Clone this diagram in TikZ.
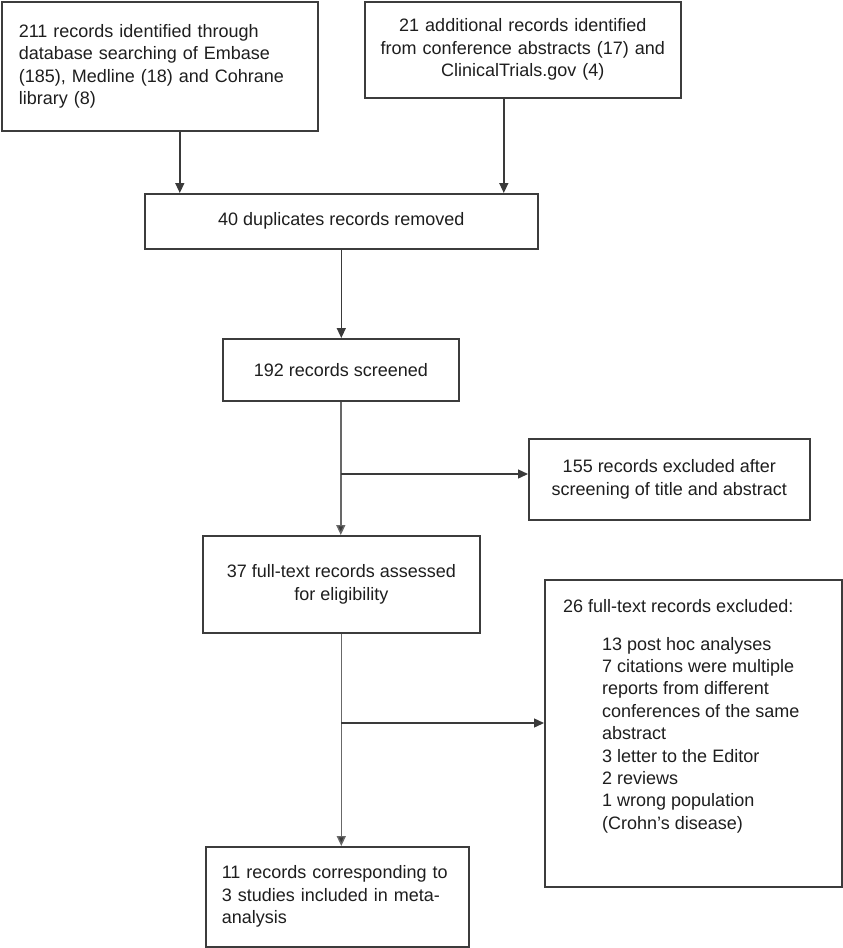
\documentclass[tikz,border=0pt]{standalone}
\usepackage{fontspec}
\setmainfont{Liberation Sans}
\usetikzlibrary{arrows.meta}
\definecolor{boxc}{HTML}{3C3C3C}
\definecolor{linec}{HTML}{3A3A3A}
\definecolor{spinec}{HTML}{686868}
\definecolor{txtc}{HTML}{1E1E1E}
\begin{document}
\begin{tikzpicture}[x=1pt,y=-1pt,
  box/.style={draw=boxc, line width=1.6pt, rectangle, inner sep=0pt, anchor=north west,
              font=\fontsize{18}{22.5}\selectfont, text=txtc},
  txt/.style={inner sep=0pt, font=\fontsize{18}{22.4}\selectfont, text=txtc},
  arr/.style={draw=linec, line width=1.4pt, -{Triangle[length=10pt,width=9pt]}},
  sarr/.style={draw=spinec, line width=1.4pt, -{Triangle[length=10pt,width=9pt,fill=linec]}},
  ln/.style={draw=spinec, line width=1.4pt}]
\useasboundingbox (0,0) rectangle (843,948);
\fill[white] (0,0) rectangle (843,948);

\node[box, minimum width=316pt, minimum height=129pt, text width=282pt, align=left] (b1) at (1,1)
  {211 records identified through\\database searching of Embase\\(185), Medline (18) and Cohrane\\library (8)};
\node[box, minimum width=316pt, minimum height=96pt, text width=300pt, align=center] (b2) at (364,1)
  {21 additional records identified\\from conference abstracts (17) and\\ClinicalTrials.gov (4)};
\node[box, minimum width=393pt, minimum height=55pt, align=center] (b3) at (144,193)
  {40 duplicates records removed};
\node[box, minimum width=236pt, minimum height=62pt, align=center] (b4) at (222,338)
  {192 records screened};
\node[box, minimum width=281pt, minimum height=81pt, align=center] (b5) at (528,438)
  {155 records excluded after\\screening of title and abstract};
\node[box, minimum width=277pt, minimum height=97pt, align=center] (b6) at (202,535)
  {37 full-text records assessed\\for eligibility};
\node[box, minimum width=297pt, minimum height=307pt] (b7) at (544,579) {};
\node[txt, anchor=north west, align=left] (b7t) at ([xshift=19pt,yshift=-20pt]b7.north west)
  {26 full-text records excluded:\\[15.5pt]
   \hspace*{39pt}13 post hoc analyses\\
   \hspace*{39pt}7 citations were multiple\\
   \hspace*{39pt}reports from different\\
   \hspace*{39pt}conferences of the same\\
   \hspace*{39pt}abstract\\
   \hspace*{39pt}3 letter to the Editor\\
   \hspace*{39pt}2 reviews\\
   \hspace*{39pt}1 wrong population\\
   \hspace*{39pt}(Crohn’s disease)};
\node[box, minimum width=263pt, minimum height=100pt, text width=231pt, align=left] (b8) at (205,846)
  {11 records corresponding to\\3 studies included in meta-\\analysis};

\coordinate (j1) at (341,474);
\coordinate (j2) at (341,723);

\draw[arr] ([xshift=20pt]b1.south) -- ([xshift=20pt]b1.south |- b3.north);
\draw[arr] ([xshift=-19pt]b2.south) -- ([xshift=-19pt]b2.south |- b3.north);
\draw[arr] (b3.south) -- (b3.south |- b4.north);
\draw[sarr] (b4.south) -- (b4.south |- b6.north);
\draw[arr] (j1) -- (j1 -| b5.west);
\draw[sarr] (b6.south) -- (b6.south |- b8.north);
\draw[arr] (j2) -- (j2 -| b7.west);
\end{tikzpicture}
\end{document}
